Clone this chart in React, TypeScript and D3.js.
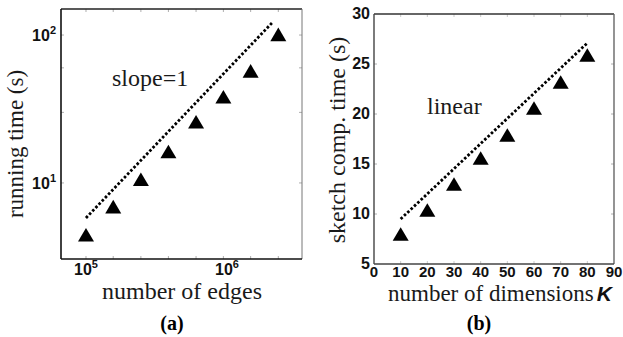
import * as d3 from "d3";

// (a) running time vs number of edges (log-log)
const edgeCounts = [1e5, 1.56e5, 2.45e5, 3.84e5, 6.03e5, 9.42e5, 1.47e6, 2.31e6];
const runningTimes = [4.46, 6.92, 10.6, 16.3, 25.9, 38.3, 57.2, 101];
const slopeLineX = [1e5, 2.1e6];
const slopeLineY = [5.8, 121.8];
const edgeTicks = [1e5, 1e6];
const edgeTickExp = ["5", "6"];
const timeTicks = [10, 100];
const timeTickExp = ["1", "2"];

// (b) sketch computation time vs number of dimensions K
const dimensions = [10, 20, 30, 40, 50, 60, 70, 80];
const sketchTimes = [8.0, 10.4, 13.0, 15.6, 17.9, 20.6, 23.2, 25.9];
const linearLineX = [10, 80];
const linearLineY = [9.5, 27.1];
const dimTicks = [0, 10, 20, 30, 40, 50, 60, 70, 80, 90];
const sketchTicks = [5, 10, 15, 20, 25, 30];

const SERIF = "Liberation Serif, DejaVu Serif, serif";
const SANS = "Liberation Sans, Arial, sans-serif";

// matplotlib-style "^" marker: centred on its bounding box
const markerTri: d3.SymbolType = {
  draw(context, size) {
    const w = Math.sqrt(size);
    const h = w * 0.85;
    context.moveTo(0, -h / 2);
    context.lineTo(w / 2, h / 2);
    context.lineTo(-w / 2, h / 2);
    context.closePath();
  },
};
const triPath = d3.symbol(markerTri, 256)() as string;

export default function App() {
  // panel (a)
  const xA = d3.scaleLog().domain([6.65e4, 3.4e6]).range([61, 302]);
  const yA = d3.scaleLog().domain([3.06, 150]).range([259, 9]);
  // panel (b)
  const xB = d3.scaleLinear().domain([0, 90]).range([374, 614]);
  const yB = d3.scaleLinear().domain([5, 30]).range([264, 14]);

  const lineA = d3
    .line<number>()
    .x((d) => xA(d))
    .y((_, i) => yA(slopeLineY[i]));
  const lineB = d3
    .line<number>()
    .x((d) => xB(d))
    .y((_, i) => yB(linearLineY[i]));

  const [ax0, ax1] = xA.range();
  const [ay0, ay1] = yA.range();
  const [bx0, bx1] = xB.range();
  const [by0, by1] = yB.range();

  return (
    <svg
      width={623}
      height={337}
      style={{ position: "absolute", left: 0, top: 0, background: "#fff" }}
    >
      <defs>
        <clipPath id="clipLabelB">
          <rect x={330} y={285} width={293} height={30} />
        </clipPath>
      </defs>

      {/* ---------- panel (a) ---------- */}
      <g>
        {/* small inner ticks */}
        {edgeCounts.map((d) => (
          <g key={"xa" + d} stroke="#999" strokeWidth={0.8}>
            <line x1={xA(d)} x2={xA(d)} y1={ay0} y2={ay0 - 3} />
            <line x1={xA(d)} x2={xA(d)} y1={ay1} y2={ay1 + 3} />
          </g>
        ))}
        {[30, 60].concat(timeTicks).map((d) => (
          <g key={"ya" + d} stroke="#999" strokeWidth={0.8}>
            <line x1={ax0} x2={ax0 + 3} y1={yA(d)} y2={yA(d)} />
            <line x1={ax1} x2={ax1 - 3} y1={yA(d)} y2={yA(d)} />
          </g>
        ))}
        <line x1={ax0} x2={ax1} y1={ay1} y2={ay1} stroke="#222" strokeWidth={1.4} />
        <line x1={ax1} x2={ax1} y1={ay1} y2={ay0} stroke="#777" strokeWidth={1} />
        <line x1={ax0} x2={ax0} y1={ay1} y2={ay0} stroke="#111" strokeWidth={1.6} />
        <line x1={ax0} x2={ax1} y1={ay0} y2={ay0} stroke="#111" strokeWidth={1.6} />

        <path
          d={lineA(slopeLineX) as string}
          fill="none"
          stroke="#000"
          strokeWidth={2.8}
          strokeDasharray="2.6 2"
        />
        {edgeCounts.map((d, i) => (
          <path
            key={"ta" + i}
            d={triPath}
            transform={`translate(${xA(d)},${yA(runningTimes[i])})`}
            fill="#000"
          />
        ))}

        <text x={112} y={86} fontFamily={SERIF} fontSize={24} fill="#1a1a1a">
          slope=1
        </text>

        {timeTicks.map((d, i) => (
          <text
            key={"yla" + d}
            x={56}
            y={yA(d) + 6}
            textAnchor="end"
            fontFamily={SANS}
            fontWeight="bold"
            fontSize={16}
            fill="#111"
          >
            10
            <tspan dy={-7} fontSize={11}>
              {timeTickExp[i]}
            </tspan>
          </text>
        ))}
        {edgeTicks.map((d, i) => (
          <text
            key={"xla" + d}
            x={xA(d)}
            y={275}
            textAnchor="middle"
            fontFamily={SANS}
            fontWeight="bold"
            fontSize={16}
            fill="#111"
          >
            10
            <tspan dy={-7} fontSize={11}>
              {edgeTickExp[i]}
            </tspan>
          </text>
        ))}

        <text
          transform="translate(23,144) rotate(-90)"
          textAnchor="middle"
          fontFamily={SERIF}
          fontSize={23}
          fill="#1a1a1a"
        >
          running time (s)
        </text>
        <text
          x={182}
          y={299}
          textAnchor="middle"
          fontFamily={SERIF}
          fontSize={24}
          fill="#1a1a1a"
        >
          number of edges
        </text>
        <text
          x={172}
          y={330}
          textAnchor="middle"
          fontFamily={SERIF}
          fontWeight="bold"
          fontSize={20}
          fill="#000"
        >
          (a)
        </text>
      </g>

      {/* ---------- panel (b) ---------- */}
      <g>
        {sketchTicks.slice(1, -1).map((d) => (
          <g key={"yb" + d} stroke="#999" strokeWidth={0.8}>
            <line x1={bx0} x2={bx0 + 3} y1={yB(d)} y2={yB(d)} />
            <line x1={bx1} x2={bx1 - 3} y1={yB(d)} y2={yB(d)} />
          </g>
        ))}
        {dimTicks.slice(1, -1).map((d) => (
          <g key={"xb" + d} stroke="#bbb" strokeWidth={0.8}>
            <line x1={xB(d)} x2={xB(d)} y1={by0} y2={by0 - 3} />
            <line x1={xB(d)} x2={xB(d)} y1={by1} y2={by1 + 3} />
          </g>
        ))}
        <line x1={bx0} x2={bx1} y1={by1} y2={by1} stroke="#333" strokeWidth={1.4} />
        <line x1={bx1} x2={bx1} y1={by1} y2={by0} stroke="#666" strokeWidth={1.4} />
        <line x1={bx0} x2={bx0} y1={by1} y2={by0} stroke="#444" strokeWidth={1.4} />
        <line x1={bx0} x2={bx1} y1={by0} y2={by0} stroke="#444" strokeWidth={1.4} />

        <path
          d={lineB(linearLineX) as string}
          fill="none"
          stroke="#000"
          strokeWidth={2.8}
          strokeDasharray="2.6 2"
        />
        {dimensions.map((d, i) => (
          <path
            key={"tb" + i}
            d={triPath}
            transform={`translate(${xB(d)},${yB(sketchTimes[i])})`}
            fill="#000"
          />
        ))}

        <text x={427} y={114} fontFamily={SERIF} fontSize={24} fill="#1a1a1a">
          linear
        </text>

        {sketchTicks.map((d) => (
          <text
            key={"ylb" + d}
            x={370}
            y={yB(d) + 5}
            textAnchor="end"
            fontFamily={SANS}
            fontWeight="bold"
            fontSize={16}
            fill="#111"
          >
            {d}
          </text>
        ))}
        {dimTicks.map((d) => (
          <text
            key={"xlb" + d}
            x={xB(d)}
            y={277}
            textAnchor="middle"
            fontFamily={SANS}
            fontWeight="bold"
            fontSize={15}
            fill="#111"
          >
            {d}
          </text>
        ))}

        <text
          transform="translate(345,140) rotate(-90)"
          textAnchor="middle"
          fontFamily={SERIF}
          fontSize={24}
          fill="#1a1a1a"
        >
          sketch comp. time (s)
        </text>
        <g clipPath="url(#clipLabelB)">
          <text x={388} y={301} fontFamily={SERIF} fontSize={23} fill="#1a1a1a">
            number of dimensions
            <tspan
              dx={3}
              fontFamily={SANS}
              fontWeight="bold"
              fontStyle="italic"
              fontSize={21}
              fill="#111"
            >
              K
            </tspan>
          </text>
        </g>
        <text
          x={479}
          y={330}
          textAnchor="middle"
          fontFamily={SERIF}
          fontWeight="bold"
          fontSize={20}
          fill="#000"
        >
          (b)
        </text>
      </g>
    </svg>
  );
}
